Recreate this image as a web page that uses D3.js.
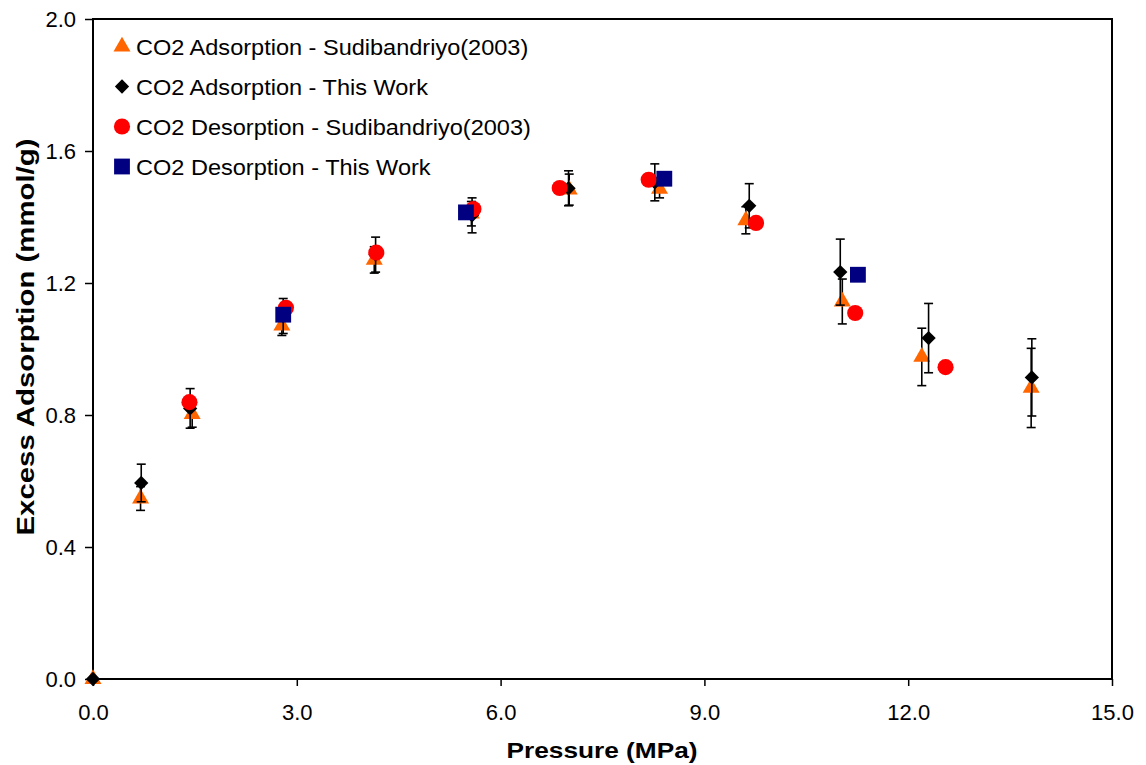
<!DOCTYPE html>
<html>
<head>
<meta charset="utf-8">
<script src="https://cdn.jsdelivr.net/npm/d3@7"></script>
<style>
  body { margin: 0; background: #fff; }
  text { font-family: "Liberation Sans", Arial, sans-serif; }
</style>
</head>
<body>
<svg id="chart" width="1146" height="765"></svg>
<script>
// ---- Data ----
const adsSudX   = [0, 0.70, 1.46, 2.78, 4.14, 5.57, 7.01, 8.34, 9.61, 11.03, 12.20, 13.81];
const adsSudY   = [0, 0.547, 0.803, 1.071, 1.270, 1.410, 1.483, 1.485, 1.390, 1.144, 0.976, 0.882];
const adsSudErr = [0, 0.036, 0.040, 0.030, 0.040, 0.037, 0.047, 0.027, 0.041, 0.068, 0.087, 0.120];

const adsThisX   = [0, 0.71, 1.43, 2.80, 4.16, 5.58, 7.00, 8.27, 9.66, 11.00, 12.30, 13.82];
const adsThisY   = [0, 0.594, 0.820, 1.100, 1.286, 1.405, 1.487, 1.505, 1.434, 1.233, 1.033, 0.914];
const adsThisErr = [0, 0.057, 0.060, 0.053, 0.053, 0.053, 0.053, 0.056, 0.067, 0.100, 0.105, 0.117];

const desSudX = [1.42, 2.84, 4.17, 5.60, 6.87, 8.18, 9.76, 11.22, 12.55];
const desSudY = [0.839, 1.125, 1.292, 1.424, 1.488, 1.513, 1.382, 1.109, 0.945];

const desThisX = [2.80, 5.49, 8.41, 11.26];
const desThisY = [1.104, 1.414, 1.516, 1.225];

const xTicks = [0, 3, 6, 9, 12, 15];
const yTicks = [0, 0.4, 0.8, 1.2, 1.6, 2.0];

const seriesNames = [
  "CO2 Adsorption - Sudibandriyo(2003)",
  "CO2 Adsorption - This Work",
  "CO2 Desorption - Sudibandriyo(2003)",
  "CO2 Desorption - This Work"
];
const xTitle = "Pressure (MPa)";
const yTitle = "Excess Adsorption (mmol/g)";

// ---- Layout ----
const svg = d3.select("#chart");
const L = 93, R = 1112, T = 19, B = 679;
const x = d3.scaleLinear().domain([0, 15]).range([L, R]);
const y = d3.scaleLinear().domain([0, 2]).range([B, T]);

const colors = { tri: "#FF6600", dia: "#000000", cir: "#FF0000", sq: "#000080" };
const symTri = d3.symbol().type(d3.symbolTriangle).size(125)();
const symDia = d3.symbol().type(d3.symbolDiamond2).size(130)();
const symCir = d3.symbol().type(d3.symbolCircle).size(205)();
const symSq  = d3.symbol().type(d3.symbolSquare).size(250)();

// Axes
const xAxis = d3.axisBottom(x).tickValues(xTicks).tickFormat(d3.format(".1f")).tickSizeOuter(0).tickSizeInner(7).tickPadding(18);
const yAxis = d3.axisLeft(y).tickValues(yTicks).tickFormat(d3.format(".1f")).tickSizeOuter(0).tickSizeInner(8).tickPadding(9);

const gx = svg.append("g").attr("transform", `translate(0,${B})`).call(xAxis);
const gy = svg.append("g").attr("transform", `translate(${L},0)`).call(yAxis);
[gx, gy].forEach(g => {
  g.selectAll("text").attr("font-size", 22).attr("fill", "#000")
    .style("font-family", "'Liberation Sans', Arial, sans-serif");
  g.selectAll("line").attr("stroke", "#000").attr("stroke-width", 1.5);
  g.select(".domain").remove();
});

// Frame
svg.append("rect").attr("x", L).attr("y", T).attr("width", R - L).attr("height", B - T)
  .attr("fill", "none").attr("stroke", "#000").attr("stroke-width", 2);

// Axis titles
svg.append("text").attr("x", 602).attr("y", 758).attr("text-anchor", "middle")
  .attr("font-size", 22).attr("font-weight", "bold")
  .attr("textLength", 191).attr("lengthAdjust", "spacingAndGlyphs").text(xTitle);
svg.append("text").attr("transform", `translate(34,337) rotate(-90)`).attr("text-anchor", "middle")
  .attr("font-size", 24).attr("font-weight", "bold")
  .attr("textLength", 397).attr("lengthAdjust", "spacingAndGlyphs").text(yTitle);

// Error bars
function errorBars(xs, ys, es) {
  const g = svg.append("g").attr("stroke", "#000").attr("stroke-width", 1.6);
  xs.forEach((xv, i) => {
    if (!es[i]) return;
    const cx = x(xv), y1 = y(ys[i] + es[i]), y2 = y(ys[i] - es[i]);
    g.append("line").attr("x1", cx).attr("x2", cx).attr("y1", y1).attr("y2", y2);
    g.append("line").attr("x1", cx - 4.5).attr("x2", cx + 4.5).attr("y1", y1).attr("y2", y1);
    g.append("line").attr("x1", cx - 4.5).attr("x2", cx + 4.5).attr("y1", y2).attr("y2", y2);
  });
}
function markers(xs, ys, path, color) {
  svg.append("g").selectAll("path").data(xs).join("path")
    .attr("d", path).attr("fill", color)
    .attr("transform", (d, i) => `translate(${x(d)},${y(ys[i])})`);
}

errorBars(adsSudX, adsSudY, adsSudErr);
markers(adsSudX, adsSudY, symTri, colors.tri);
errorBars(adsThisX, adsThisY, adsThisErr);
markers(adsThisX, adsThisY, symDia, colors.dia);
markers(desSudX, desSudY, symCir, colors.cir);
markers(desThisX, desThisY, symSq, colors.sq);

// Legend
const legSyms = [[symTri, colors.tri], [symDia, colors.dia], [symCir, colors.cir], [symSq, colors.sq]];
const leg = svg.append("g");
seriesNames.forEach((name, i) => {
  const yy = 46.5 + i * 40;
  leg.append("path").attr("d", legSyms[i][0]).attr("fill", legSyms[i][1])
    .attr("transform", `translate(122,${yy})`);
  leg.append("text").attr("transform", `translate(136,${yy + 8}) scale(1.07,1)`)
    .attr("font-size", 22).attr("fill", "#000").text(name);
});
</script>
</body>
</html>
